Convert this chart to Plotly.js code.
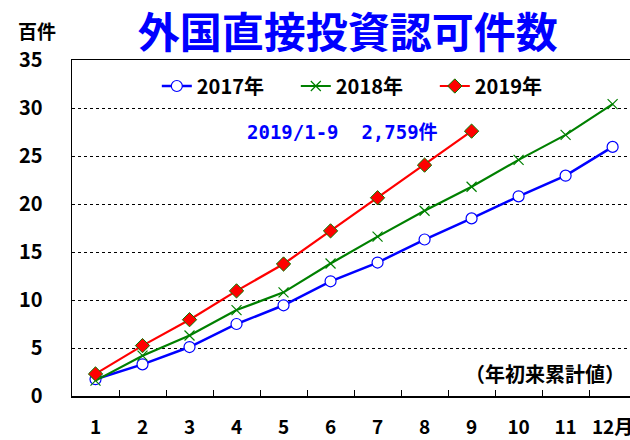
<!DOCTYPE html>
<html>
<head>
<meta charset="utf-8">
<script src="https://cdn.plot.ly/plotly-3.0.1.min.js"></script>
<style>html,body{margin:0;padding:0;background:#fff}</style>
</head>
<body>
<div id="chart" style="width:630px;height:440px"></div>
<script>
const months = ["1","2","3","4","5","6","7","8","9","10","11","12月"];
const values2017 = [1.75, 3.3, 5.1, 7.5, 9.45, 11.95, 13.9, 16.3, 18.5, 20.8, 22.95, 25.95];
const values2018 = [1.6, 4.2, 6.3, 8.95, 10.8, 13.8, 16.6, 19.3, 21.8, 24.6, 27.2, 30.4];
const values2019 = [2.3, 5.25, 7.95, 10.95, 13.75, 17.2, 20.65, 24.05, 27.59];
const seriesNames = ["2017年", "2018年", "2019年"];
const yTicks = [0, 5, 10, 15, 20, 25, 30, 35];

const F = "'Noto Sans CJK JP', 'Liberation Sans', sans-serif";

const traces = [
  {x: months, y: values2017, name: seriesNames[0], type: 'scatter', mode: 'lines+markers',
   line: {color: '#0000ff', width: 2.5},
   marker: {symbol: 'circle', size: 11, color: '#ffffff', line: {color: '#0000ff', width: 1.2}}},
  {x: months, y: values2018, name: seriesNames[1], type: 'scatter', mode: 'lines+markers',
   line: {color: '#008000', width: 2.2},
   marker: {symbol: 'x-thin', size: 10, color: '#008000', line: {color: '#008000', width: 1.2}}},
  {x: months.slice(0, values2019.length), y: values2019, name: seriesNames[2], type: 'scatter', mode: 'lines+markers',
   line: {color: '#ff0000', width: 2.2},
   marker: {symbol: 'diamond', size: 11, color: '#ff0000', line: {color: '#008000', width: 1}}}
];

const layout = {
  width: 630, height: 440,
  margin: {l: 72, r: 0, t: 60, b: 44},
  paper_bgcolor: '#ffffff', plot_bgcolor: '#ffffff',
  font: {family: F, color: '#000000'},
  title: {text: '<b>外国直接投資認可件数</b>', font: {family: F, size: 42, color: '#0000ff'},
          x: 0.552, xanchor: 'center', y: 0.925, yanchor: 'middle', xref: 'container', yref: 'container'},
  showlegend: true,
  legend: {orientation: 'h', x: 0.152, xanchor: 'left', y: 0.9226, yanchor: 'middle',
           font: {family: F, size: 20, color: '#000000', weight: 'bold'},
           bgcolor: 'rgba(0,0,0,0)', entrywidth: 94, entrywidthmode: 'pixels', traceorder: 'normal'},
  xaxis: {type: 'category', categoryorder: 'array', categoryarray: months,
          range: [-0.5, 11.37], showline: true, linecolor: '#000000', linewidth: 1.5,
          mirror: true, ticks: 'inside', tickson: 'boundaries', ticklen: 6, tickcolor: '#000000',
          showgrid: false, zeroline: false, ticklabelstandoff: 14, tickangle: 0,
          tickfont: {family: F, size: 19, color: '#000000', weight: 'bold'}},
  yaxis: {range: [0, 35], tickvals: yTicks, ticktext: yTicks.map(String),
          showline: true, linecolor: '#000000', linewidth: 1.5, ticks: '',
          showgrid: true, gridcolor: '#000000', gridwidth: 1, griddash: 'dot', zeroline: false,
          ticklabelstandoff: 24,
          tickfont: {family: F, size: 20, color: '#000000', weight: 'bold'}},
  annotations: [
    {text: '<b>百件</b>', xref: 'paper', yref: 'paper', x: -0.0627, y: 1.088, xanchor: 'center', yanchor: 'middle',
     showarrow: false, font: {family: F, size: 19, color: '#000000'}},
    {text: '<b>（年初来累計値）</b>', xref: 'paper', yref: 'paper', x: 0.9946, y: 0.0655, xanchor: 'right', yanchor: 'middle',
     showarrow: false, font: {family: F, size: 20, color: '#000000'}},
    {text: '<b>2019/1-9  2,759件</b>', xref: 'paper', yref: 'paper', x: 0.484, y: 0.786, xanchor: 'center', yanchor: 'middle',
     showarrow: false, font: {family: "'DejaVu Sans Mono', 'Noto Sans CJK JP', monospace", size: 19, color: '#0000ff'}}
  ]
};

Plotly.newPlot('chart', traces, layout, {displayModeBar: false, staticPlot: true});
</script>
</body>
</html>
